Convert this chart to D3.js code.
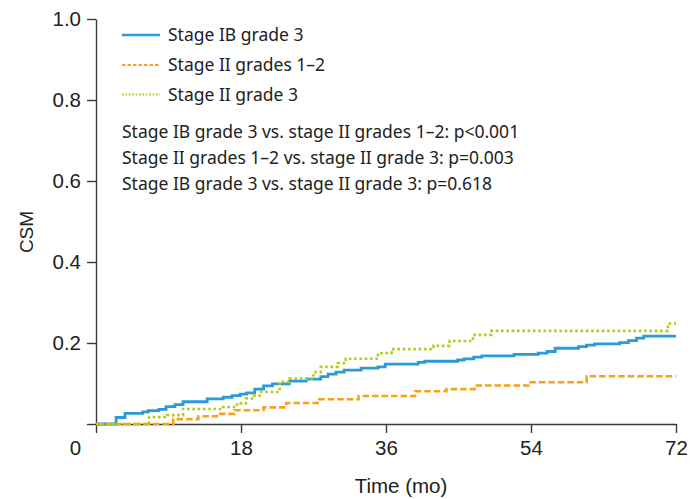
<!DOCTYPE html>
<html>
<head>
<meta charset="utf-8">
<script src="https://cdn.jsdelivr.net/npm/d3@7/dist/d3.min.js"></script>
<style>
  html, body { margin: 0; padding: 0; background: #fff; }
  svg { display: block; }
</style>
</head>
<body>
<svg id="chart" width="693" height="499"></svg>
<script>
// Cumulative cancer-specific mortality (CSM) step curves, months 0–72
const ib3Time = [0, 2.5, 3.6, 5.8, 6.5, 7.8, 8.7, 9.8, 10.8, 13.8, 15.8, 16.9, 17.9, 18.7, 19.7, 20.8, 21.9, 24.0, 26.1, 27.9, 28.8, 29.8, 30.8, 32.9, 35.0, 35.9, 40.0, 40.8, 44.9, 45.7, 46.9, 47.9, 51.9, 54.9, 56.0, 57.0, 59.9, 60.9, 61.9, 65.0, 66.1, 67.1, 68.0, 72];
const ib3CSM  = [0, 0.016, 0.026, 0.030, 0.033, 0.036, 0.043, 0.048, 0.055, 0.062, 0.066, 0.070, 0.074, 0.077, 0.086, 0.094, 0.099, 0.106, 0.111, 0.117, 0.123, 0.128, 0.133, 0.138, 0.141, 0.148, 0.152, 0.155, 0.158, 0.161, 0.165, 0.168, 0.172, 0.175, 0.179, 0.187, 0.191, 0.195, 0.198, 0.201, 0.206, 0.212, 0.217, 0.217];

const ii12Time = [0, 9.6, 12.7, 15.0, 17.2, 20.8, 23.6, 27.7, 32.6, 39.6, 43.5, 47.0, 53.7, 60.9, 72];
const ii12CSM  = [0, 0.012, 0.019, 0.025, 0.034, 0.041, 0.052, 0.061, 0.069, 0.081, 0.086, 0.095, 0.103, 0.118, 0.118];

const ii3Time = [0, 6.6, 8.8, 10.8, 15.6, 17.5, 18.6, 19.6, 20.5, 22.8, 24.0, 27.0, 27.9, 30.0, 31.0, 35.0, 36.7, 41.9, 43.9, 46.8, 49.1, 71.0, 72];
const ii3CSM  = [0, 0.017, 0.022, 0.037, 0.042, 0.051, 0.063, 0.070, 0.079, 0.104, 0.112, 0.128, 0.141, 0.150, 0.161, 0.175, 0.185, 0.193, 0.205, 0.220, 0.230, 0.248, 0.248];

const seriesNames = ["Stage IB grade 3", "Stage II grades 1\u20132", "Stage II grade 3"];
const pValueNotes = [
  "Stage IB grade 3 vs. stage II grades 1\u20132: p<0.001",
  "Stage II grades 1\u20132 vs. stage II grade 3: p=0.003",
  "Stage IB grade 3 vs. stage II grade 3: p=0.618"
];
const xTicks = [0, 18, 36, 54, 72];
const yTicks = [0, 0.2, 0.4, 0.6, 0.8, 1.0];

const colors = ["#2b9bd8", "#f6a21e", "#b3cb1c"];
const dashes = [null, "6.5,3", "2.6,2.7"];
const legendDashes = [null, "3.5,2", "1.6,1.8"];

const svg = d3.select("#chart");
const margin = { left: 96, right: 17, top: 19, bottom: 75 };
const W = 693, H = 499;

const x = d3.scaleLinear().domain([0, 72]).range([margin.left, W - margin.right]);
const y = d3.scaleLinear().domain([0, 1]).range([H - margin.bottom, margin.top]);

const tickFont = "'Liberation Sans', Arial, sans-serif";
const textFont = "'Noto Sans', sans-serif";
const tickSize = "20.5px";

// Axes
const yAxis = d3.axisLeft(y).tickValues(yTicks).tickSize(9).tickSizeOuter(0).tickPadding(6)
  .tickFormat(d => d === 0 ? "" : d3.format(".1f")(d));
const xAxis = d3.axisBottom(x).tickValues(xTicks).tickSize(9).tickSizeOuter(0).tickPadding(7)
  .tickFormat(d => d === 0 ? "" : d);

const gy = svg.append("g").attr("transform", `translate(${margin.left},0)`).call(yAxis);
const gx = svg.append("g").attr("transform", `translate(0,${H - margin.bottom})`).call(xAxis);

[gx, gy].forEach(g => {
  g.selectAll("path.domain, line").attr("stroke", "#3a3a3a").attr("stroke-width", 1.4);
  g.selectAll("text").attr("fill", "#222").style("font-family", tickFont).style("font-size", tickSize);
});

// shared origin label
svg.append("text")
  .attr("x", x(0) - 20.5).attr("y", H - margin.bottom + 16).attr("dy", "0.71em")
  .attr("text-anchor", "middle").attr("fill", "#222")
  .style("font-family", tickFont).style("font-size", tickSize)
  .text("0");

// Axis titles
svg.append("text")
  .attr("x", 401).attr("y", 492.5)
  .attr("text-anchor", "middle").attr("fill", "#222")
  .style("font-family", tickFont).style("font-size", tickSize)
  .text("Time (mo)");

svg.append("text")
  .attr("transform", "translate(26,232) rotate(-90)").attr("dy", "0.35em")
  .attr("text-anchor", "middle").attr("fill", "#222")
  .style("font-family", tickFont).style("font-size", "19px")
  .text("CSM");

// Curves
const series = [
  { t: ib3Time, v: ib3CSM },
  { t: ii12Time, v: ii12CSM },
  { t: ii3Time, v: ii3CSM }
];
const line = d3.line().x(d => x(d[0])).y(d => y(d[1])).curve(d3.curveStepAfter);

series.forEach((s, i) => {
  const pts = s.t.map((t, k) => [t, s.v[k]]);
  svg.append("path")
    .datum(pts)
    .attr("d", line)
    .attr("fill", "none")
    .attr("stroke", colors[i])
    .attr("stroke-width", i === 0 ? 2.8 : 2.6)
    .attr("stroke-dasharray", dashes[i])
    .attr("stroke-linejoin", "miter");
});

// Legend
const legendRows = [35, 65, 94.5];
seriesNames.forEach((name, i) => {
  svg.append("line")
    .attr("x1", 122).attr("x2", 160)
    .attr("y1", legendRows[i]).attr("y2", legendRows[i])
    .attr("stroke", colors[i])
    .attr("stroke-width", i === 0 ? 2.4 : 1.8)
    .attr("stroke-dasharray", legendDashes[i]);
  svg.append("text")
    .attr("x", 168).attr("y", legendRows[i]).attr("dy", "0.35em")
    .attr("fill", "#222")
    .style("font-family", textFont).style("font-size", "17.5px")
    .text(name);
});

const noteRows = [131.5, 157.5, 183.5];
pValueNotes.forEach((txt, i) => {
  svg.append("text")
    .attr("x", 122).attr("y", noteRows[i]).attr("dy", "0.35em")
    .attr("fill", "#222")
    .style("font-family", textFont).style("font-size", "17.5px")
    .text(txt);
});
</script>
</body>
</html>
